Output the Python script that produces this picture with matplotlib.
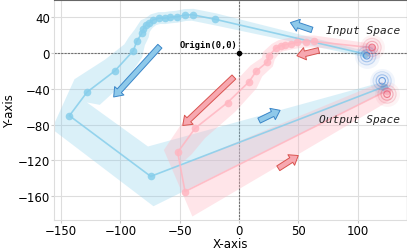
import numpy as np
import matplotlib
matplotlib.use("Agg")
import matplotlib.pyplot as plt

# ---- data ----
# blue trajectory, input space -> output space
blue_x = [106, -20.4, -39.2, -45.6, -52.6, -58.3, -62.5, -67.3, -72.3, -75.9, -78.5,
          -80.7, -82.1, -86.3, -89.2, -104.6, -128.1, -143.0, -74.5, 121.9]
blue_y = [-1, 37.9, 42.9, 42.6, 40.7, 40.0, 39.2, 39.2, 37.3, 33.6, 31.4,
          26.9, 22.0, 13.1, 2.6, -19.8, -43.6, -70.1, -138.0, -37.7]
blue_w = [3, 6, 6, 6, 6, 6, 6, 6, 6, 6, 7, 7, 8, 9, 11, 15, 18, 22, 30, 5]  # band half width (px)

# red trajectory
red_x = [112, 63, 56, 49, 43.4, 39, 35, 30.8, 25, 23.8, 14.5, 8.4, -9.8, -37,
         -51.8, -45.6, 124.5]
red_y = [6, 13, 12.7, 12, 10.6, 9.4, 8.2, 5.2, -3, -10, -20, -32, -55.4, -84,
         -111, -155, -42]
red_w = [4, 6, 6, 6, 6, 6, 6, 6, 7, 7, 8, 10, 12, 14, 14, 26, 10]

# ring centres (input / output space)
blue_rings = [(107.5, -3), (120.5, -31)]
red_rings = [(112, 6.4), (124.6, -46)]

# direction arrows (tail, head)
blue_arrows = [((63.6, 25), (41, 35.1)), ((-65.2, 10), (-107.3, -51.4)),
               ((14.7, -76.9), (36.6, -62.7))]
red_arrows = [((69.4, 3.8), (46.4, -3.7)), ((-2.7, -24.6), (-49.2, -83.2)),
              ((31, -130.6), (51.8, -113))]

xticks = [-150, -100, -50, 0, 50, 100]
yticks = [40, 0, -40, -80, -120, -160]

BLUE = "#87CEEB"
PINK = "#FFB6C1"

fig = plt.figure(figsize=(4.07, 2.51), dpi=100)
ax = fig.add_axes([54 / 407, 1 - 220.7 / 251, 352.5 / 407, 220.2 / 251])
ax.set_xlim(-156, 141)
ax.set_ylim(-186.5, 60)


def band(xs, ys, ws, color, alpha):
    pts = ax.transData.transform(np.column_stack([xs, ys]))
    t = np.zeros_like(pts)
    t[1:-1] = pts[2:] - pts[:-2]
    t[0] = pts[1] - pts[0]
    t[-1] = pts[-1] - pts[-2]
    t = t / np.linalg.norm(t, axis=1)[:, None]
    nrm = np.column_stack([-t[:, 1], t[:, 0]])
    w = np.array(ws, float)[:, None]
    poly = np.vstack([pts + nrm * w, (pts - nrm * w)[::-1]])
    poly = ax.transData.inverted().transform(poly)
    ax.fill(poly[:, 0], poly[:, 1], color=color, alpha=alpha, lw=0, zorder=2)


band(blue_x, blue_y, blue_w, BLUE, 0.3)
band(red_x, red_y, red_w, PINK, 0.35)

ax.plot(blue_x, blue_y, "-o", color=BLUE, lw=1.2, ms=5.5, alpha=0.85, mec="none", zorder=3)
ax.plot(red_x, red_y, "-o", color=PINK, lw=1.2, ms=5.5, alpha=0.85, mec="none", zorder=3)

# glowing concentric rings
for centres, col in [(blue_rings, "#3a7fd5"), (red_rings, "#e8556d")]:
    for cx, cy in centres:
        ax.scatter(cx, cy, s=320, color=col, alpha=0.07, lw=0, zorder=4)
        ax.scatter(cx, cy, s=160, color=col, alpha=0.07, lw=0, zorder=4)
        for s, a in [(170, 0.2), (75, 0.4), (22, 0.7)]:
            ax.scatter(cx, cy, s=s, facecolors="none", edgecolors=col, alpha=a,
                       lw=0.8, zorder=5)

for arrows, fc, ec in [(blue_arrows, "#8ec9ea", "#3a86c8"), (red_arrows, "#f7a8b0", "#d9534f")]:
    for tail, head in arrows:
        ax.annotate("", xy=head, xytext=tail,
                    arrowprops=dict(arrowstyle="simple,head_length=0.6,head_width=0.9,tail_width=0.4",
                                    fc=fc, ec=ec, lw=0.7, mutation_scale=10),
                    zorder=6)

ax.axhline(0, color="#555555", lw=0.8, ls=(0, (2, 1)), alpha=0.8, zorder=1)
ax.axvline(0, color="#555555", lw=0.8, ls=(0, (2, 1)), alpha=0.8, zorder=1)
ax.plot(0, 0, "o", color="black", ms=3, zorder=7)
ax.annotate("Origin(0,0)", xy=(0, 0), xytext=(-1, 3), textcoords="offset points",
            ha="right", va="bottom", family="DejaVu Sans Mono", weight="bold",
            fontsize=6.3, zorder=7)

ax.text(104.6, 25.8, "Input Space", ha="center", va="center", family="DejaVu Sans Mono",
        style="italic", fontsize=8, color="#222222", zorder=7)
ax.text(101.7, -74, "Output Space", ha="center", va="center", family="DejaVu Sans Mono",
        style="italic", fontsize=8, color="#222222", zorder=7)

ax.set_xticks(xticks)
ax.set_yticks(yticks)
ax.grid(True, color="#dddddd", lw=0.8, zorder=0)
ax.set_axisbelow(True)
ax.tick_params(length=2, width=0.8, color="#cccccc", pad=0.8, labelsize=8.5)
for side in ["left", "bottom"]:
    ax.spines[side].set_color("#dddddd")
for side in ["top", "right"]:
    ax.spines[side].set_color("#666666")
ax.set_xlabel("X-axis", fontsize=8.5, labelpad=0)
ax.set_ylabel("Y-axis", fontsize=8.5, labelpad=1)

fig.savefig("out.png", dpi=100)
